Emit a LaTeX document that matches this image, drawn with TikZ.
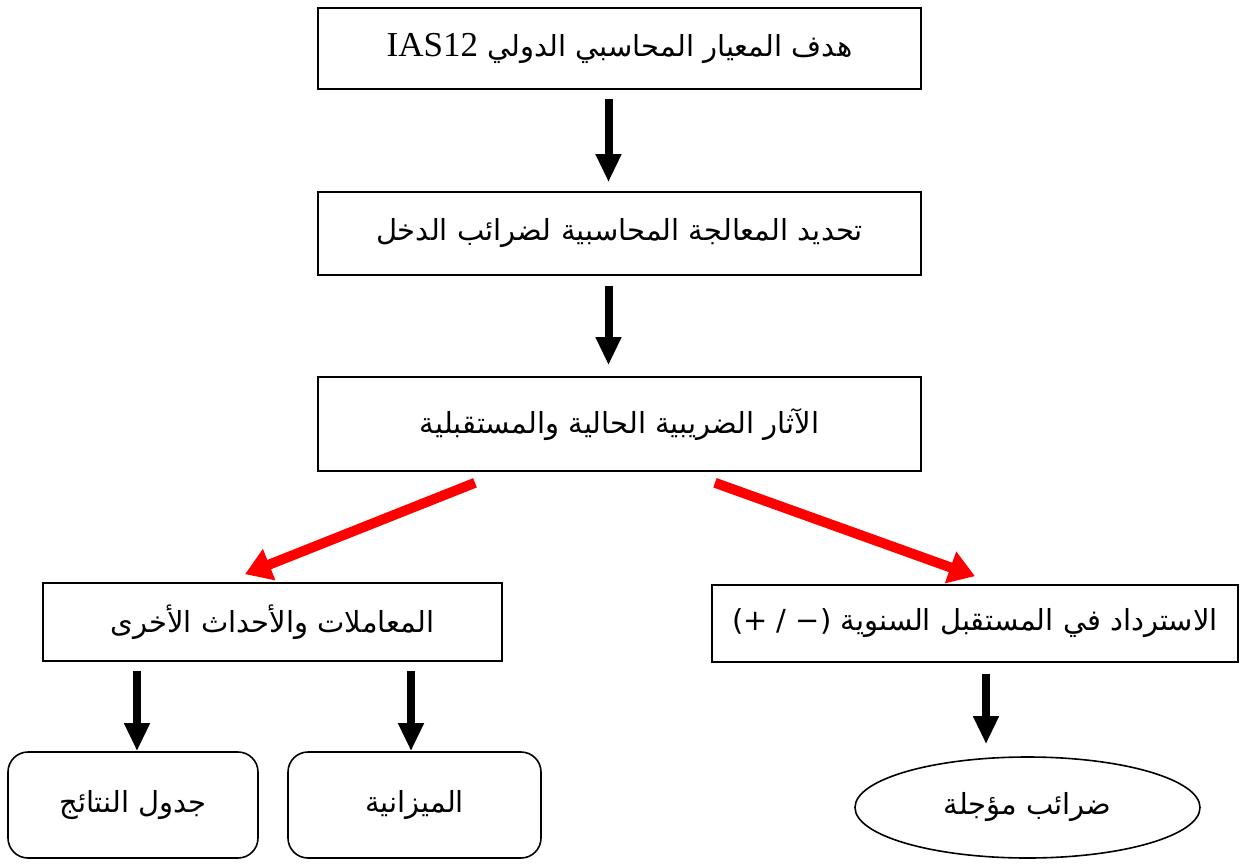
\documentclass[tikz,border=0pt]{standalone}
\usepackage{fontspec}
\setmainfont{Liberation Serif}
\newfontfamily\arabicfont[Script=Arabic]{DejaVu Sans}
\newfontfamily\latinfont{Liberation Serif}
\newfontfamily\latinsans{DejaVu Sans}
\TeXXeTstate=1
\usetikzlibrary{arrows.meta,shapes.geometric}
\tikzset{
  box/.style={draw=black, line width=1.6pt, rectangle, inner sep=0pt, font=\arabicfont\fontsize{29}{34}\selectfont},
  rbox/.style={box, rounded corners=20pt},
  ebox/.style={draw=black, line width=1.6pt, ellipse, inner sep=0pt, font=\arabicfont\fontsize{29}{34}\selectfont},
  blackarrow/.style={draw=black, line width=8pt, -{Triangle[length=28pt,width=24pt]}},
  redarrow/.style={draw=red, line width=10pt, -{Triangle[length=26pt,width=32pt]}},
}
\begin{document}
\begin{tikzpicture}[x=1pt,y=-1pt]
\useasboundingbox (0,0) rectangle (1240,865);
\node[box, minimum width=603pt, minimum height=81pt] (b1) at (619.5,48.5)
  {{\latinfont\fontsize{35}{40}\selectfont IAS12} \beginR هدف المعيار المحاسبي الدولي\endR};
\node[box, minimum width=603pt, minimum height=83pt] (b2) at (619.5,233.5)
  {\beginR تحديد المعالجة المحاسبية لضرائب الدخل\endR};
\node[box, minimum width=603pt, minimum height=94pt] (b3) at (619.5,424)
  {\beginR الآثار الضريبية الحالية والمستقبلية\endR};
\node[box, minimum width=459pt, minimum height=78pt] (b4) at (272.5,622)
  {\beginR المعاملات والأحداث الأخرى\endR};
\node[box, minimum width=526pt, minimum height=77pt] (b5) at (975,623.5)
  {{\latinsans(+ / −)} \beginR الاسترداد في المستقبل السنوية\endR};
\node[rbox, minimum width=250pt, minimum height=106pt] (r1) at (133,805)
  {\beginR جدول النتائج\endR};
\node[rbox, minimum width=253pt, minimum height=106pt] (r2) at (414.5,805)
  {\beginR الميزانية\endR};
\node[ebox, minimum width=345pt, minimum height=101pt] (e1) at (1027.5,807.5)
  {\beginR ضرائب مؤجلة\endR};

\draw[blackarrow] ([xshift=-11pt,yshift=-9pt]b1.south) -- ([xshift=-11pt,yshift=9pt]b2.north);
\draw[blackarrow] ([xshift=-11pt,yshift=-10pt]b2.south) -- ([xshift=-11pt,yshift=11pt]b3.north);
\draw[redarrow] ([xshift=-144.5pt,yshift=-11pt]b3.south) -- ([xshift=-27.5pt,yshift=8pt]b4.north);
\draw[redarrow] ([xshift=95.5pt,yshift=-11pt]b3.south) -- ([yshift=8pt]b5.north);
\draw[blackarrow] ([xshift=-135.5pt,yshift=-9pt]b4.south) -- ([xshift=4pt]r1.north);
\draw[blackarrow] ([xshift=138.5pt,yshift=-9pt]b4.south) -- ([xshift=-3.5pt]r2.north);
\draw[blackarrow] ([xshift=11pt,yshift=-11pt]b5.south) -- ([xshift=-41.5pt,yshift=12pt]e1.north);
\end{tikzpicture}
\end{document}
